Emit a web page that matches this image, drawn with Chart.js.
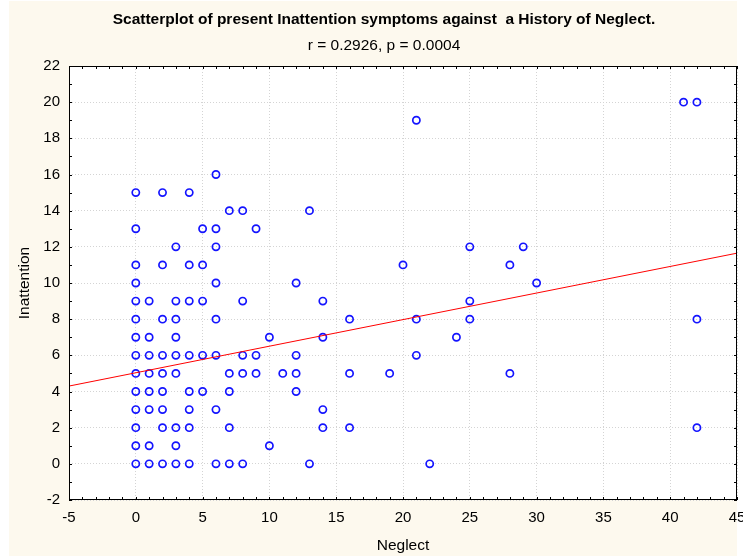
<!DOCTYPE html>
<html>
<head>
<meta charset="utf-8">
<script src="https://cdn.jsdelivr.net/npm/chart.js@4.4.1/dist/chart.umd.min.js"></script>
<style>
html,body{margin:0;padding:0;background:#ffffff;}
canvas{display:block;}
</style>
</head>
<body>
<canvas id="c" width="743" height="558"></canvas>
<script>
// ---- Data ----
const neglect = [
  41, 42,
  21,
  6,
  0, 2, 4,
  7, 8, 13,
  0, 5, 6, 9,
  3, 6, 25, 29,
  0, 2, 4, 5, 20, 28,
  0, 6, 12, 30,
  0, 1, 3, 4, 5, 8, 14, 25,
  0, 2, 3, 6, 16, 21, 25, 42,
  0, 1, 3, 10, 14, 24,
  0, 1, 2, 3, 4, 5, 6, 8, 9, 12, 21,
  0, 1, 2, 3, 7, 8, 9, 11, 12, 16, 19, 28,
  0, 1, 2, 4, 5, 7, 12,
  0, 1, 2, 4, 6, 14,
  0, 2, 3, 4, 7, 14, 16, 42,
  0, 1, 3, 10,
  0, 1, 2, 3, 4, 6, 7, 8, 13, 22
];
const inattention = [
  20, 20,
  19,
  16,
  15, 15, 15,
  14, 14, 14,
  13, 13, 13, 13,
  12, 12, 12, 12,
  11, 11, 11, 11, 11, 11,
  10, 10, 10, 10,
  9, 9, 9, 9, 9, 9, 9, 9,
  8, 8, 8, 8, 8, 8, 8, 8,
  7, 7, 7, 7, 7, 7,
  6, 6, 6, 6, 6, 6, 6, 6, 6, 6, 6,
  5, 5, 5, 5, 5, 5, 5, 5, 5, 5, 5, 5,
  4, 4, 4, 4, 4, 4, 4,
  3, 3, 3, 3, 3, 3,
  2, 2, 2, 2, 2, 2, 2, 2,
  1, 1, 1, 1,
  0, 0, 0, 0, 0, 0, 0, 0, 0, 0
];
// fitted regression line endpoints
const fitX = [-5, 45];
const fitY = [4.3, 11.65];

const titleText = "Scatterplot of present Inattention symptoms against  a History of Neglect.";
const subtitleText = "r = 0.2926, p = 0.0004";
const xTitle = "Neglect";
const yTitle = "Inattention";
const xRange = [-5, 45];
const yRange = [-2, 22];

const FONT = "Arial, 'Liberation Sans', sans-serif";

const points = neglect.map((x, i) => ({x: x, y: inattention[i]}));
const fitPts = fitX.map((x, i) => ({x: x, y: fitY[i]}));

const bgPlugin = {
  id: 'bg',
  afterLayout(chart) {
    chart.boxes.forEach(b => {
      if (b.position === 'top' && b.options && b.options.text !== undefined) {
        b.left += 22;
      }
    });
  },
  beforeDraw(chart) {
    const ctx = chart.ctx, a = chart.chartArea;
    ctx.save();
    ctx.fillStyle = '#ffffff';
    ctx.fillRect(0, 0, chart.width, chart.height);
    ctx.fillStyle = '#fdf9ee';
    ctx.fillRect(9, 1, 728, 555);
    ctx.fillStyle = '#ffffff';
    ctx.fillRect(a.left, a.top, a.right - a.left, a.bottom - a.top);
    ctx.restore();
  },
  afterDraw(chart) {
    const ctx = chart.ctx, a = chart.chartArea;
    const xs = chart.scales.x, ys = chart.scales.y;
    ctx.save();
    ctx.strokeStyle = '#000000';
    ctx.lineWidth = 1;
    ctx.beginPath();
    for (let v = xRange[0]; v <= xRange[1]; v++) {
      const px = Math.round(xs.getPixelForValue(v)) + 0.5;
      ctx.moveTo(px, a.bottom); ctx.lineTo(px, a.bottom - 3);
      ctx.moveTo(px, a.top); ctx.lineTo(px, a.top + 3);
    }
    for (let v = yRange[0]; v <= yRange[1]; v++) {
      const py = Math.round(ys.getPixelForValue(v)) + 0.5;
      ctx.moveTo(a.left, py); ctx.lineTo(a.left + 3, py);
      ctx.moveTo(a.right, py); ctx.lineTo(a.right - 3, py);
    }
    ctx.stroke();
    ctx.strokeRect(Math.round(a.left) + 0.5, Math.round(a.top) + 0.5,
                   Math.round(a.right - a.left) - 1, Math.round(a.bottom - a.top) - 1);
    ctx.restore();
  }
};

new Chart(document.getElementById('c'), {
  type: 'scatter',
  data: {
    datasets: [
      {
        type: 'line',
        data: fitPts,
        borderColor: '#ff0000',
        borderWidth: 1,
        pointRadius: 0,
        fill: false,
        order: 0
      },
      {
        data: points,
        pointStyle: 'circle',
        pointRadius: 3.6,
        pointBorderWidth: 1.7,
        borderColor: '#1414ff',
        backgroundColor: 'rgba(0,0,0,0)',
        order: 1
      }
    ]
  },
  plugins: [bgPlugin],
  options: {
    responsive: false,
    devicePixelRatio: 1,
    animation: false,
    layout: {padding: {left: 9, right: 6, top: 1, bottom: 2}},
    plugins: {
      legend: {display: false},
      tooltip: {enabled: false},
      title: {
        display: true,
        text: titleText,
        color: '#000000',
        font: {family: FONT, size: 15.5, weight: 'bold'},
        padding: {top: 9.7, bottom: 7.4}
      },
      subtitle: {
        display: true,
        text: subtitleText,
        color: '#000000',
        font: {family: FONT, size: 15.5, weight: 'normal'},
        padding: {top: 0, bottom: 10.7}
      }
    },
    scales: {
      x: {
        type: 'linear',
        min: xRange[0], max: xRange[1],
        afterFit: s => { s.height = 56; s.paddingRight = 0; s.paddingLeft = 0; },
        ticks: {stepSize: 5, color: '#000000', padding: 9, font: {family: FONT, size: 15}, maxRotation: 0},
        grid: {color: '#d4d4d4', drawTicks: false},
        border: {display: false, dash: [1, 2]},
        title: {display: true, text: xTitle, color: '#000000', font: {family: FONT, size: 15.5}, padding: {top: 0, bottom: 0.7}}
      },
      y: {
        type: 'linear',
        min: yRange[0], max: yRange[1],
        afterFit: s => { s.width = 60; },
        ticks: {stepSize: 2, color: '#000000', padding: 9, font: {family: FONT, size: 15}},
        grid: {color: '#d4d4d4', drawTicks: false},
        border: {display: false, dash: [1, 2]},
        title: {display: true, text: yTitle, color: '#000000', font: {family: FONT, size: 15.5}, padding: {top: 6.7, bottom: 0}}
      }
    }
  }
});
</script>
</body>
</html>
